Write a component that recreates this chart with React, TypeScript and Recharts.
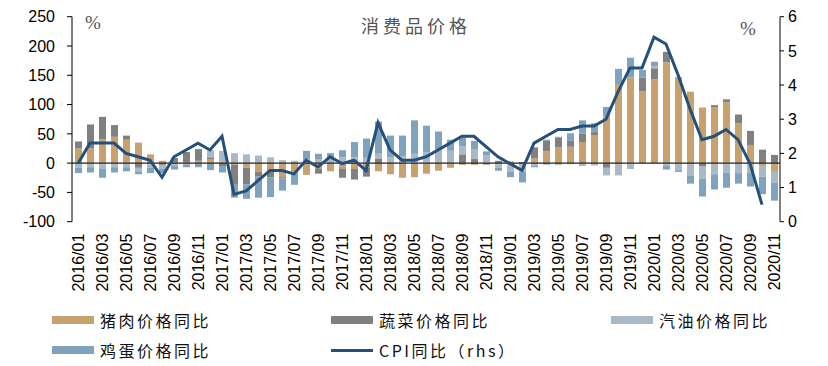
import {
  ComposedChart,
  Bar,
  Line,
  XAxis,
  YAxis,
  ReferenceLine,
  Legend,
} from "recharts";

const months = [
  "2016/01", "2016/02", "2016/03", "2016/04", "2016/05", "2016/06",
  "2016/07", "2016/08", "2016/09", "2016/10", "2016/11", "2016/12",
  "2017/01", "2017/02", "2017/03", "2017/04", "2017/05", "2017/06",
  "2017/07", "2017/08", "2017/09", "2017/10", "2017/11", "2017/12",
  "2018/01", "2018/02", "2018/03", "2018/04", "2018/05", "2018/06",
  "2018/07", "2018/08", "2018/09", "2018/10", "2018/11", "2018/12",
  "2019/01", "2019/02", "2019/03", "2019/04", "2019/05", "2019/06",
  "2019/07", "2019/08", "2019/09", "2019/10", "2019/11", "2019/12",
  "2020/01", "2020/02", "2020/03", "2020/04", "2020/05", "2020/06",
  "2020/07", "2020/08", "2020/09", "2020/10", "2020/11",
];

// 猪肉价格同比 (%)
const porkYoY = [
  25, 25, 41, 45, 40, 35, 15, 4, 1, 1, 4, 7,
  3, -3, -8, -15, -12, -24, -16, -20, -10, -14, -10, -10,
  -8, -14, -19, -25, -24, -18, -13, -8, -3, -3, -3, -2,
  3, -3, 8, 20, 27, 28, 36, 48, 80, 135, 146, 123,
  143, 172, 147, 122, 95, 95, 104, 68, 31, -5, -15,
];

// 蔬菜价格同比 (%)
const vegYoY = [
  12, 41, 38, 20, 7, -8, -2, -3, 8, 18, 20, 3,
  -5, -34, -28, -8, -12, -2, -2, 0, -8, 0, -15, -18,
  -15, 8, 0, 0, 0, 0, 0, 0, 15, 7, 1, 4,
  -2, 2, 19, 19, 17, 10, 14, 5, -8, -2, 0, 23,
  19, 18, 0, -2, -6, 4, 5, 15, 24, 23, 14,
];

// 汽油价格同比 (%)
const gasYoY = [
  -8, -7, -9, -7, -7, -6, -6, -6, -4, -2, -1, 12,
  18, 17, 15, 13, 10, 5, 4, 6, 7, 8, 10, 10,
  9, 8, 10, 12, 16, 18, 24, 21, 14, 17, 12, -6,
  -13, -12, -4, -3, -3, -2, -5, -4, -13, -19, -10, 0,
  3, -4, -12, -19, -21, -19, -16, -17, -17, -18, -18,
];

// 鸡蛋价格同比 (%)
const eggYoY = [
  -9, -9, -16, -9, -7, -5, -9, -8, -7, -5, -6, -12,
  -11, -22, -25, -36, -34, -21, -19, 15, 9, 9, 12, 26,
  33, 55, 37, 35, 57, 46, 30, 19, 15, 14, 7, -5,
  -9, -18, -3, 1, 1, 13, 23, 15, 16, 26, 34, 13,
  8, -7, -3, -14, -30, -26, -26, -18, -23, -30, -31,
];

// CPI同比 (%), 右轴
const cpiYoY = [
  1.7, 2.3, 2.3, 2.3, 2.0, 1.9, 1.8, 1.3, 1.9, 2.1, 2.3, 2.1,
  2.5, 0.8, 0.9, 1.2, 1.5, 1.5, 1.4, 1.8, 1.6, 1.9, 1.7, 1.8,
  1.5, 2.9, 2.1, 1.8, 1.8, 1.9, 2.1, 2.3, 2.5, 2.5, 2.2, 1.9,
  1.7, 1.5, 2.3, 2.5, 2.7, 2.7, 2.8, 2.8, 3.0, 3.8, 4.5, 4.5,
  5.4, 5.2, 4.3, 3.3, 2.4, 2.5, 2.7, 2.4, 1.7, 0.5, null,
];

const leftTicks = [-100, -50, 0, 50, 100, 150, 200, 250];
const rightTicks = [0, 1, 2, 3, 4, 5, 6];

const COLORS = {
  pork: "#C8A26E",
  veg: "#808080",
  gas: "#A9B9C5",
  egg: "#7FA2BD",
  cpi: "#24507A",
};

const data = months.map((month, i) => ({
  month,
  pork: porkYoY[i],
  veg: vegYoY[i],
  gas: gasYoY[i],
  egg: eggYoY[i],
  cpi: cpiYoY[i],
}));

const numFont = "'Liberation Sans', Arial, sans-serif";
const cjkFont = "'Noto Sans CJK SC', sans-serif";

function MonthTick({ x, y, payload }: any) {
  return (
    <text
      x={x}
      y={y}
      transform={`rotate(-90, ${x}, ${y})`}
      textAnchor="end"
      dy="0.36em"
      fontSize={16}
      fontFamily={numFont}
      fill="#000"
    >
      {payload.value}
    </text>
  );
}

const legendItems = [
  { label: "猪肉价格同比", color: COLORS.pork, kind: "box", left: 52, top: 22 },
  { label: "蔬菜价格同比", color: COLORS.veg, kind: "box", left: 331, top: 22 },
  { label: "汽油价格同比", color: COLORS.gas, kind: "box", left: 611, top: 22 },
  { label: "鸡蛋价格同比", color: COLORS.egg, kind: "box", left: 52, top: 52 },
  { label: "CPI同比（rhs）", color: COLORS.cpi, kind: "line", left: 331, top: 52 },
];

function ChartLegend() {
  return (
    <div style={{ position: "relative", width: 828, height: 60 }}>
      {legendItems.map((item) => (
        <div
          key={item.label}
          style={{
            position: "absolute",
            left: item.left,
            top: item.top - 10,
            height: 20,
            display: "flex",
            alignItems: "center",
            fontFamily: cjkFont,
            fontSize: 16,
            letterSpacing: 2.5,
            color: "#111",
            whiteSpace: "nowrap",
          }}
        >
          <span
            style={{
              display: "inline-block",
              width: 42,
              height: item.kind === "line" ? 3 : 8,
              background: item.color,
              marginRight: 6,
            }}
          />
          {item.label}
        </div>
      ))}
    </div>
  );
}

export default function App() {
  return (
    <div
      style={{
        position: "absolute",
        left: 0,
        top: 0,
        width: 828,
        height: 366,
        background: "#fff",
      }}
    >
      <ComposedChart
        width={828}
        height={366}
        data={data}
        stackOffset="sign"
        margin={{ top: 16.7, right: 0, bottom: 8, left: 0 }}
      >
        <XAxis
          dataKey="month"
          interval={1}
          axisLine={false}
          tickLine={false}
          tick={<MonthTick />}
          tickMargin={6}
          height={76.3}
        />
        <YAxis
          yAxisId="left"
          width={72}
          domain={[-100, 250]}
          ticks={leftTicks}
          interval={0}
          axisLine={{ stroke: "#000" }}
          tickLine={{ stroke: "#000" }}
          tickSize={5}
          tickMargin={12}
          tick={{ fill: "#000", fontSize: 16, fontFamily: numFont }}
        />
        <YAxis
          yAxisId="right"
          orientation="right"
          width={48}
          domain={[0, 6]}
          ticks={rightTicks}
          interval={0}
          axisLine={{ stroke: "#000" }}
          tickLine={{ stroke: "#000" }}
          tickSize={4}
          tickMargin={4}
          tick={{ fill: "#000", fontSize: 16, fontFamily: numFont }}
        />
        <Legend
          verticalAlign="bottom"
          content={<ChartLegend />}
          wrapperStyle={{ left: 0 }}
        />
        <Bar yAxisId="left" dataKey="pork" name="猪肉价格同比" stackId="a" fill={COLORS.pork} barSize={7} isAnimationActive={false} />
        <Bar yAxisId="left" dataKey="veg" name="蔬菜价格同比" stackId="a" fill={COLORS.veg} barSize={7} isAnimationActive={false} />
        <Bar yAxisId="left" dataKey="gas" name="汽油价格同比" stackId="a" fill={COLORS.gas} barSize={7} isAnimationActive={false} />
        <Bar yAxisId="left" dataKey="egg" name="鸡蛋价格同比" stackId="a" fill={COLORS.egg} barSize={7} isAnimationActive={false} />
        <ReferenceLine yAxisId="left" y={0} stroke="#222" strokeWidth={1.3} />
        <Line
          yAxisId="right"
          type="linear"
          dataKey="cpi"
          name="CPI同比（rhs）"
          stroke={COLORS.cpi}
          strokeWidth={3}
          dot={false}
          isAnimationActive={false}
        />
      </ComposedChart>
      <div
        style={{
          position: "absolute",
          left: 0,
          width: 828,
          top: 12,
          textAlign: "center",
          fontFamily: cjkFont,
          fontSize: 18,
          letterSpacing: 4,
          color: "#555",
          paddingLeft: 2,
        }}
      >
        消费品价格
      </div>
      <div
        style={{
          position: "absolute",
          left: 85,
          top: 12,
          fontFamily: "'Liberation Serif', serif",
          fontSize: 19,
          color: "#555",
        }}
      >
        %
      </div>
      <div
        style={{
          position: "absolute",
          left: 740,
          top: 18,
          fontFamily: "'Liberation Serif', serif",
          fontSize: 19,
          color: "#555",
        }}
      >
        %
      </div>
    </div>
  );
}
